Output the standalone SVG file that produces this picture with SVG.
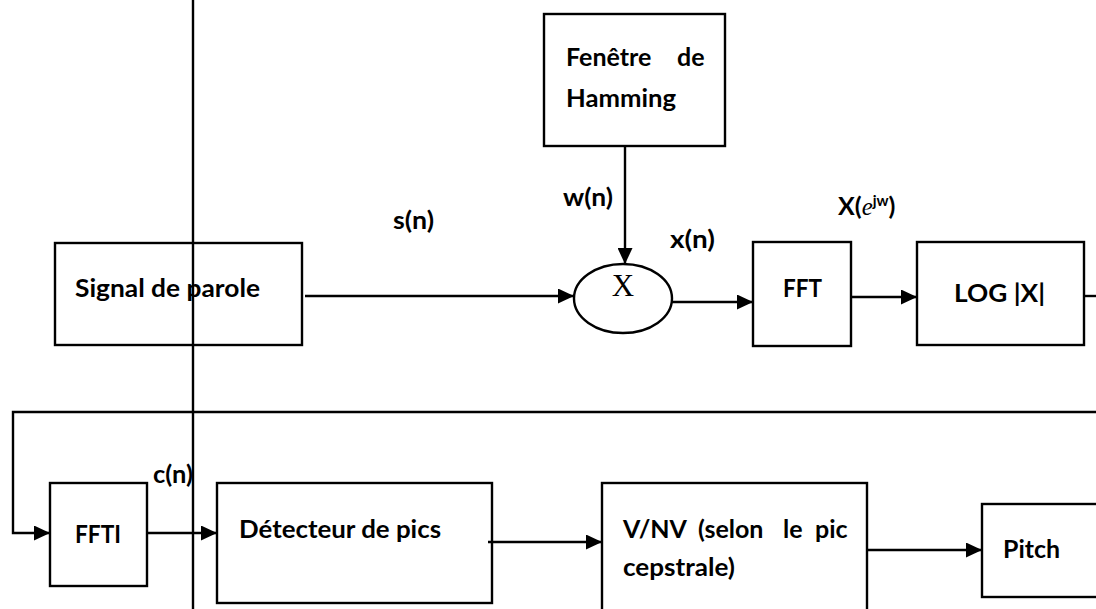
<svg xmlns="http://www.w3.org/2000/svg" width="1096" height="609" viewBox="0 0 1096 609">
  <style>
    .box { fill: none; stroke: #000; stroke-width: 2.4; }
    .wire { fill: none; stroke: #000; stroke-width: 2.4; }
    .lbl { font-family: "Lato", "Liberation Sans", sans-serif; font-weight: 700; font-size: 25px; fill: #000; }
    .ser { font-family: "Liberation Serif", serif; font-size: 31px; fill: #000; }
  </style>
  <defs>
    <marker id="arrow" markerUnits="userSpaceOnUse" markerWidth="17" markerHeight="15" refX="16" refY="7.5" orient="auto">
      <path d="M0,0 L16,7.5 L0,15 Z" fill="#000"/>
    </marker>
  </defs>

  <rect width="1096" height="609" fill="#fff"/>

  <!-- connectors -->
  <g id="connectors">
    <line class="wire" x1="305" y1="296" x2="574" y2="296" marker-end="url(#arrow)"/>
    <line class="wire" x1="625" y1="146" x2="625" y2="264" marker-end="url(#arrow)"/>
    <line class="wire" x1="672" y1="302" x2="753" y2="302" marker-end="url(#arrow)"/>
    <line class="wire" x1="851" y1="297" x2="917" y2="297" marker-end="url(#arrow)"/>
    <line class="wire" x1="1084" y1="296" x2="1096" y2="296"/>
    <polyline class="wire" points="1096,412 13,412 13,533 50,533" marker-end="url(#arrow)"/>
    <line class="wire" x1="147" y1="533" x2="217" y2="533" marker-end="url(#arrow)"/>
    <line class="wire" x1="488" y1="542" x2="602" y2="542" marker-end="url(#arrow)"/>
    <line class="wire" x1="867" y1="550" x2="982" y2="550" marker-end="url(#arrow)"/>
    <line class="wire" x1="193" y1="0" x2="193" y2="609"/>
  </g>

  <!-- signal labels -->
  <g id="labels">
    <text class="lbl" x="393" y="229" textLength="41" lengthAdjust="spacingAndGlyphs">s(n)</text>
    <text class="lbl" x="563" y="206" textLength="50" lengthAdjust="spacingAndGlyphs">w(n)</text>
    <text class="lbl" x="670" y="248" textLength="45" lengthAdjust="spacingAndGlyphs">x(n)</text>
    <text class="lbl" x="838" y="215">X(<tspan font-family="Liberation Serif, serif" font-style="italic" font-weight="400">e</tspan><tspan font-size="15" dy="-9">jw</tspan><tspan dy="9">)</tspan></text>
    <text class="lbl" x="153" y="483" textLength="40" lengthAdjust="spacingAndGlyphs">c(n)</text>
  </g>

  <g id="signal">
    <rect class="box" x="55" y="243" width="247" height="102"/>
    <text class="lbl" x="75" y="297" textLength="185" lengthAdjust="spacingAndGlyphs">Signal de parole</text>
  </g>

  <g id="hamming">
    <rect class="box" x="544" y="14" width="181" height="132"/>
    <text class="lbl" x="566" y="66">Fenêtre<tspan x="677">de</tspan></text>
    <text class="lbl" x="566" y="107" textLength="110" lengthAdjust="spacingAndGlyphs">Hamming</text>
  </g>

  <g id="multiplier">
    <ellipse class="box" cx="623" cy="298.5" rx="49" ry="34.5"/>
    <text class="ser" x="623" y="296" text-anchor="middle">X</text>
  </g>

  <g id="fft">
    <rect class="box" x="753" y="242" width="98" height="104"/>
    <text class="lbl" x="783" y="297" textLength="39" lengthAdjust="spacingAndGlyphs">FFT</text>
  </g>

  <g id="log">
    <rect class="box" x="917" y="242" width="167" height="103"/>
    <text class="lbl" x="954" y="302" textLength="91" lengthAdjust="spacingAndGlyphs">LOG |X|</text>
  </g>

  <g id="ffti">
    <rect class="box" x="50" y="483" width="97" height="103"/>
    <text class="lbl" x="75" y="543" textLength="46" lengthAdjust="spacingAndGlyphs">FFTI</text>
  </g>

  <g id="detecteur">
    <rect class="box" x="217" y="483" width="275" height="120"/>
    <text class="lbl" x="239" y="538" textLength="202" lengthAdjust="spacingAndGlyphs">Détecteur de pics</text>
  </g>

  <g id="vnv">
    <rect class="box" x="602" y="483" width="265" height="140"/>
    <text class="lbl" x="623" y="538">V/NV<tspan x="698">(selon</tspan><tspan x="783">le</tspan><tspan x="815">pic</tspan></text>
    <text class="lbl" x="623" y="576" textLength="112" lengthAdjust="spacingAndGlyphs">cepstrale)</text>
  </g>

  <g id="pitch">
    <rect class="box" x="982" y="504" width="130" height="93"/>
    <text class="lbl" x="1003" y="558" textLength="57" lengthAdjust="spacingAndGlyphs">Pitch</text>
  </g>
</svg>
